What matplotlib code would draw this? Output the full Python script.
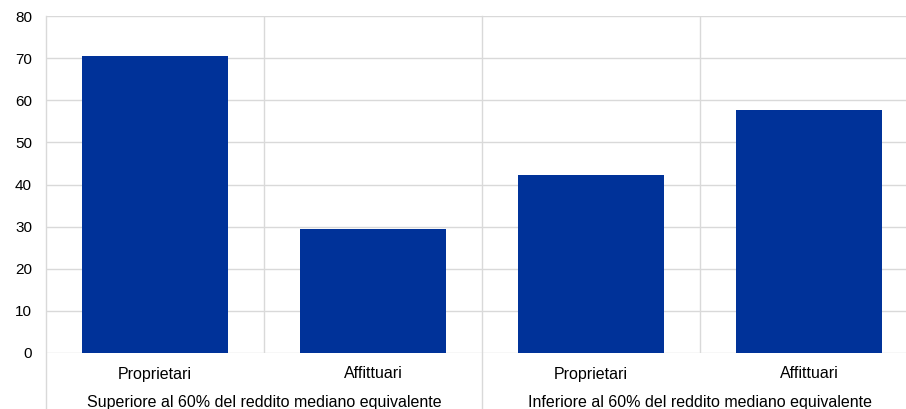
import matplotlib
matplotlib.use('Agg')
import matplotlib.pyplot as plt

# data
categories = ['Proprietari', 'Affittuari', 'Proprietari', 'Affittuari']
groups = ['Superiore al 60% del reddito mediano equivalente',
          'Inferiore al 60% del reddito mediano equivalente']
values = [70.4, 29.5, 42.3, 57.7]
yticks = [0, 10, 20, 30, 40, 50, 60, 70, 80]

bar_color = '#003299'
grid_color = '#d9d9d9'

plt.rcParams['font.family'] = ['Liberation Sans', 'DejaVu Sans']

W, H = 906, 409
fig = plt.figure(figsize=(W / 100, H / 100), dpi=100)

# plot area in pixels: left 46, bottom 353, top 16, runs off the right edge
left, right, top, bottom = 46, 906, 16, 353
ax = fig.add_axes([left / W, (H - bottom) / H, (right - left) / W, (bottom - top) / H])

cat_w = 218.0  # pixels per category
x = list(range(len(values)))
ax.bar(x, values, width=146 / cat_w, color=bar_color, zorder=3)

ax.set_xlim(-0.5, -0.5 + (right - left) / cat_w)
ax.set_ylim(0, 80)
ax.set_yticks(yticks)
ax.set_yticklabels([str(t) for t in yticks], fontsize=11, color='#000000')
ax.tick_params(axis='y', length=0, pad=10)
ax.set_xticks([])

for s in ax.spines.values():
    s.set_visible(False)

for t in yticks:
    ax.axhline(t, color=grid_color, lw=1, zorder=1)

# category separators inside the plot
for b in [0.5, 2.5]:
    ax.axvline(b, color=grid_color, lw=1, zorder=1)

# left edge and group separator run down through the labels
px = 80 / (bottom - top)
for b in [-0.5, 1.5]:
    ax.plot([b, b], [80, -(H - bottom) * px], color=grid_color, lw=1,
            clip_on=False, zorder=1)

for i, c in enumerate(categories):
    ax.text(i, -21 * px, c, ha='center', va='center', fontsize=11.5,
            clip_on=False)
for g, name in enumerate(groups):
    ax.text(0.5 + 2 * g, -49 * px, name, ha='center', va='center',
            fontsize=11.5, clip_on=False)

fig.savefig('out.png', dpi=100)
